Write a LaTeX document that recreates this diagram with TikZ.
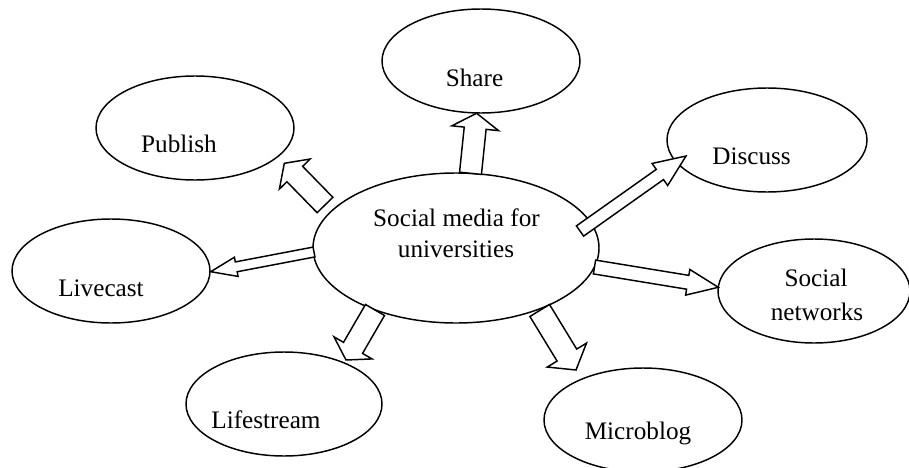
\documentclass[tikz,border=0pt]{standalone}
\usepackage{fontspec}
\setmainfont{Liberation Serif}
\usetikzlibrary{calc,shapes.geometric}
% block arrow: tail, tip, shaft width, head width, head length (all in px)
\newcommand\blockarr[6]{%
  \coordinate (#6) at ($(#2)!#5*0.75pt!(#1)$);
  \draw[fill=white, line join=miter]
    ($(#1)!#3*0.375pt!90:(#2)$) -- ($(#6)!#3*0.375pt!90:(#2)$) --
    ($(#6)!#4*0.375pt!90:(#2)$) -- (#2) --
    ($(#6)!#4*0.375pt!-90:(#2)$) -- ($(#6)!#3*0.375pt!-90:(#2)$) --
    ($(#1)!#3*0.375pt!-90:(#2)$) -- cycle;
}
\begin{document}
\begin{tikzpicture}[x=0.75pt,y=-0.75pt, line width=1.1pt,
  bubble/.style={draw, ellipse, inner sep=0pt},
  lbl/.style={font=\fontsize{18.9pt}{23pt}\selectfont, inner sep=0pt, anchor=base}]
\useasboundingbox (0,0) rectangle (909,467);
% ellipses
\node[bubble, minimum width=148.5pt, minimum height=78pt] (share) at (481,61) {};
\node[bubble, minimum width=148.5pt, minimum height=78pt] (publish) at (195,128) {};
\node[bubble, minimum width=150pt, minimum height=78pt] (discuss) at (767,140) {};
\node[bubble, minimum width=214.5pt, minimum height=112.5pt] (hub) at (456,248) {};
\node[bubble, minimum width=148.5pt, minimum height=78pt] (livecast) at (111,271) {};
\node[bubble, minimum width=144pt, minimum height=78pt] (socnet) at (814,291) {};
\node[bubble, minimum width=147pt, minimum height=78pt] (lifestream) at (284,404) {};
\node[bubble, minimum width=148.5pt, minimum height=78pt] (microblog) at (643,420) {};
% labels
\node[lbl] (share-t) at (474.5,86) {Share};
\node[lbl] (publish-t) at (179,152) {Publish};
\node[lbl] (discuss-t) at (751.5,164) {Discuss};
\node[lbl] (hub-t1) at (456.5,226) {Social media for};
\node[lbl] (hub-t2) at (456,257) {universities};
\node[lbl] (livecast-t) at (101,296) {Livecast};
\node[lbl] (socnet-t1) at (816,286) {Social};
\node[lbl] (socnet-t2) at (817,320) {networks};
\node[lbl] (lifestream-t) at (266,428) {Lifestream};
\node[lbl] (microblog-t) at (638,439) {Microblog};
% arrow ends
\coordinate (a1s) at (470.5,173.3); \coordinate (a1e) at (476.7,113.3);
\coordinate (a2s) at (325,205);     \coordinate (a2e) at (284.3,163.3);
\coordinate (a3s) at (580,231);     \coordinate (a3e) at (686,156);
\coordinate (a4s) at (314,252);     \coordinate (a4e) at (210.7,271.7);
\coordinate (a5s) at (594.5,267);   \coordinate (a5e) at (718.3,287.3);
\coordinate (a6s) at (375,310);     \coordinate (a6e) at (346,360);
\coordinate (a7s) at (539.7,310.5); \coordinate (a7e) at (576,370);
% block arrows
\blockarr{a1s}{a1e}{22}{47}{15}{a1b}
\blockarr{a2s}{a2e}{22}{43}{15}{a2b}
\blockarr{a3s}{a3e}{12.5}{27}{32}{a3b}
\blockarr{a4s}{a4e}{10}{19.5}{26}{a4b}
\blockarr{a5s}{a5e}{14}{26}{31}{a5b}
\blockarr{a6s}{a6e}{22}{44}{14}{a6b}
\blockarr{a7s}{a7e}{23}{46}{17.5}{a7b}
\end{tikzpicture}
\end{document}
